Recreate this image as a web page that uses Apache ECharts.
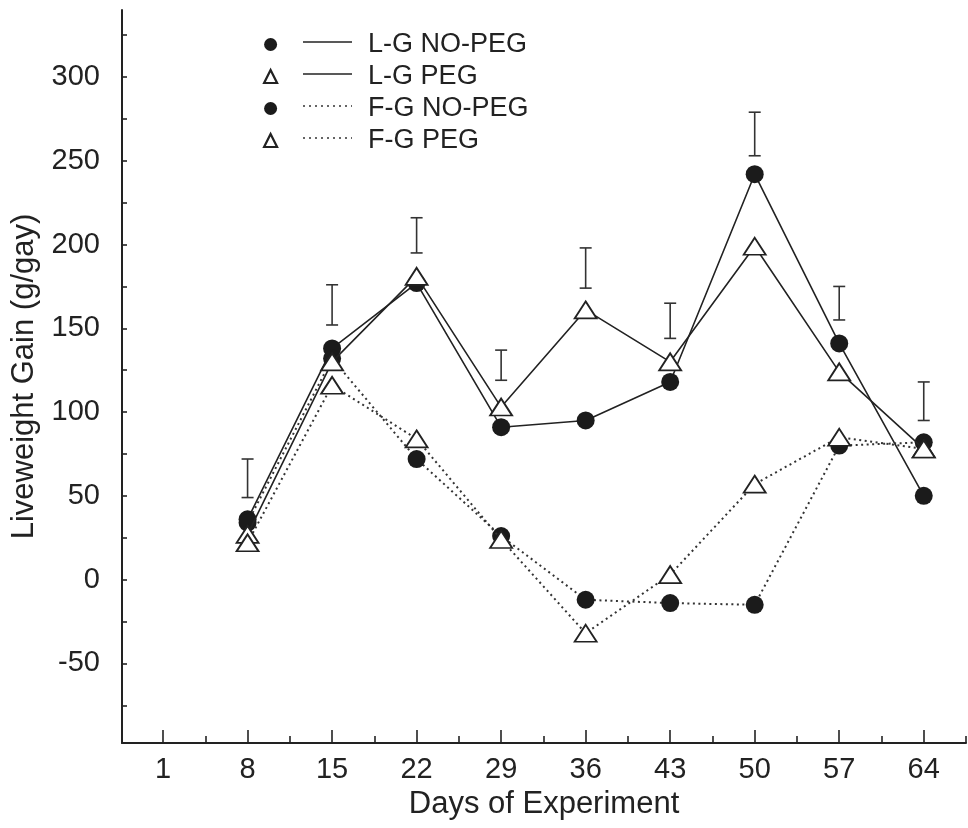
<!DOCTYPE html>
<html>
<head>
<meta charset="utf-8">
<title>Liveweight Gain</title>
<script src="https://cdn.jsdelivr.net/npm/echarts@6/dist/echarts.min.js"></script>
<style>
  html, body { margin: 0; padding: 0; background: #fff; }
  #chart { width: 968px; height: 828px; }
</style>
</head>
<body>
<div id="chart"></div>
<script>
// days of experiment where the groups were weighed
const days = [8, 15, 22, 29, 36, 43, 50, 57, 64];
const lgNoPeg = [36, 138, 177, 91, 95, 118, 242, 141, 50];
const lgPeg = [27, 130, 181, 103, 161, 130, 199, 124, 78];
const fgNoPeg = [34, 132, 72, 26, -12, -14, -15, 80, 82];
const fgPeg = [22, 116, 84, 24, -32, 3, 57, 85, 78];
// error bars (SE) drawn above the points
const errLow = [49, 152, 195, 119, 174, 144, 253, 155, 95];
const errHigh = [72, 176, 216, 137, 198, 165, 279, 175, 118];
// axis ticks / labels
const dayLabels = [1, 8, 15, 22, 29, 36, 43, 50, 57, 64];
const dayMinor = [4.5, 11.5, 18.5, 25.5, 32.5, 39.5, 46.5, 53.5, 60.5, 67.5];
const yLabels = [-50, 0, 50, 100, 150, 200, 250, 300];
const yTicks = [-75, -50, -25, 0, 25, 50, 75, 100, 125, 150, 175, 200, 225, 250, 275, 300, 325];

const font = "'Liberation Sans', Arial, Helvetica, sans-serif";
const ink = '#222';
const xMin = -2.4, xMax = 67.5;

function pairs(ys) {
  return days.map(function (d, i) { return [d, ys[i]]; });
}

// extra x axis that only carries tick marks (no line, no labels)
function tickAxis(values, len) {
  return {
    type: 'value',
    position: 'bottom',
    offset: 0,
    min: xMin,
    max: xMax,
    axisLine: { show: false, onZero: false },
    axisTick: { show: true, inside: true, length: len, customValues: values, lineStyle: { color: ink, width: 1.6 } },
    axisLabel: { show: false },
    splitLine: { show: false }
  };
}

const solid = { color: ink, width: 1.6, type: 'solid' };
const dotted = { color: '#333', width: 2, type: [2, 3.5] };
const dot = { color: '#1b1b1b', borderWidth: 0 };
const tri = { color: '#fff', borderColor: ink, borderWidth: 1.8 };
const triLegend = { color: '#fff', borderColor: ink, borderWidth: 2.2 };

const chart = echarts.init(document.getElementById('chart'), null, { renderer: 'canvas' });

chart.setOption({
  backgroundColor: '#fff',
  animation: false,
  textStyle: { fontFamily: font, color: ink },
  grid: { left: 122, right: 2, top: 10, bottom: 85 },
  legend: {
    orient: 'vertical',
    left: 258,
    top: 26,
    itemWidth: 13,
    itemHeight: 13,
    itemGap: 5,
    selectedMode: false,
    textStyle: { fontFamily: font, fontSize: 27, lineHeight: 27, color: ink, padding: [0, 0, 0, 86] },
    data: [
      { name: 'L-G NO-PEG', icon: 'circle', itemStyle: dot },
      { name: 'L-G PEG', icon: 'triangle', itemStyle: triLegend },
      { name: 'F-G NO-PEG', icon: 'circle', itemStyle: dot },
      { name: 'F-G PEG', icon: 'triangle', itemStyle: triLegend }
    ]
  },
  // line samples of the legend (symbol, line, text)
  graphic: [
    { type: 'line', shape: { x1: 303, y1: 42, x2: 352, y2: 42 }, style: { stroke: ink, lineWidth: 1.6 } },
    { type: 'line', shape: { x1: 303, y1: 74, x2: 352, y2: 74 }, style: { stroke: ink, lineWidth: 1.6 } },
    { type: 'line', shape: { x1: 303, y1: 106, x2: 352, y2: 106 }, style: { stroke: '#333', lineWidth: 1.6, lineDash: [2, 4] } },
    { type: 'line', shape: { x1: 303, y1: 138, x2: 352, y2: 138 }, style: { stroke: '#333', lineWidth: 1.6, lineDash: [2, 4] } }
  ],
  xAxis: [
    {
      type: 'value',
      position: 'bottom',
      min: xMin,
      max: xMax,
      name: 'Days of Experiment',
      nameLocation: 'middle',
      nameGap: 44,
      nameTextStyle: { fontFamily: font, fontSize: 31, color: ink },
      axisLine: { show: true, onZero: false, lineStyle: { color: ink, width: 2 } },
      axisTick: { show: false },
      axisLabel: { customValues: dayLabels, margin: 12, fontFamily: font, fontSize: 29, color: ink },
      splitLine: { show: false }
    },
    tickAxis(dayLabels, 13),
    tickAxis(dayMinor, 7)
  ],
  yAxis: {
    type: 'value',
    min: -97.5,
    max: 340,
    name: 'Liveweight Gain (g/gay)',
    nameLocation: 'middle',
    nameGap: 82,
    nameTextStyle: { fontFamily: font, fontSize: 31, color: ink },
    axisLine: { show: true, onZero: false, lineStyle: { color: ink, width: 2 } },
    axisTick: { show: true, inside: true, length: 5, customValues: yTicks, lineStyle: { color: ink, width: 1.6 } },
    axisLabel: { customValues: yLabels, margin: 22, fontFamily: font, fontSize: 29, color: ink },
    splitLine: { show: false }
  },
  series: [
    {
      name: 'SE',
      type: 'custom',
      xAxisIndex: 0,
      data: days.map(function (d, i) { return [d, errLow[i], errHigh[i]]; }),
      encode: { x: 0, y: [1, 2] },
      renderItem: function (params, api) {
        const top = api.coord([api.value(0), api.value(2)]);
        const bot = api.coord([api.value(0), api.value(1)]);
        const w = 6;
        const st = { stroke: '#333', lineWidth: 1.6 };
        return {
          type: 'group',
          children: [
            { type: 'line', shape: { x1: top[0], y1: top[1], x2: bot[0], y2: bot[1] }, style: st },
            { type: 'line', shape: { x1: top[0] - w, y1: top[1], x2: top[0] + w, y2: top[1] }, style: st },
            { type: 'line', shape: { x1: bot[0] - w, y1: bot[1], x2: bot[0] + w, y2: bot[1] }, style: st }
          ]
        };
      }
    },
    {
      name: 'L-G NO-PEG', type: 'line', data: pairs(lgNoPeg),
      symbol: 'circle', symbolSize: 18, lineStyle: solid, itemStyle: dot, z: 3
    },
    {
      name: 'F-G NO-PEG', type: 'line', data: pairs(fgNoPeg),
      symbol: 'circle', symbolSize: 18, lineStyle: dotted, itemStyle: dot, z: 3
    },
    {
      name: 'L-G PEG', type: 'line', data: pairs(lgPeg),
      symbol: 'triangle', symbolSize: [22, 17], lineStyle: solid, itemStyle: tri, z: 4
    },
    {
      name: 'F-G PEG', type: 'line', data: pairs(fgPeg),
      symbol: 'triangle', symbolSize: [22, 17], lineStyle: dotted, itemStyle: tri, z: 4
    }
  ]
});
</script>
</body>
</html>
